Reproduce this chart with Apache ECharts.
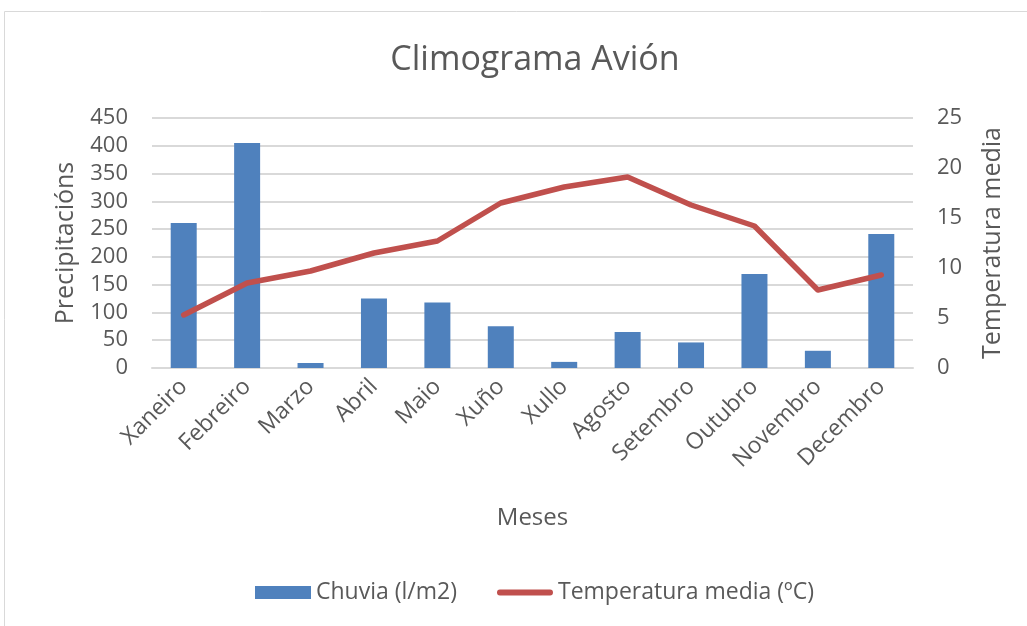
<!DOCTYPE html>
<html>
<head>
<meta charset="utf-8">
<script src="https://cdn.jsdelivr.net/npm/echarts@6/dist/echarts.min.js"></script>
<style>
  html, body { margin: 0; padding: 0; background: #fff; }
  #chart { width: 1027px; height: 626px; }
</style>
</head>
<body>
<div id="chart"></div>
<script>
var meses = ['Xaneiro', 'Febreiro', 'Marzo', 'Abril', 'Maio', 'Xuño', 'Xullo', 'Agosto', 'Setembro', 'Outubro', 'Novembro', 'Decembro']
var chuvia = [261, 405, 9, 125, 118, 75, 11, 65, 46, 169, 31, 241]
var temperatura = [5.3, 8.5, 9.7, 11.5, 12.7, 16.5, 18.1, 19.1, 16.3, 14.2, 7.8, 9.3]

var font = 'Open Sans, Noto Sans, sans-serif'
var grey = '#595959'
// rounded red bar for the line legend, padded to a 58x13 box
var lineIcon = 'path://M0,0 M58,13 M3,3.5 L55,3.5 A3,3 0 0 1 55,9.5 L3,9.5 A3,3 0 0 1 3,3.5 Z'

var chart = echarts.init(document.getElementById('chart'))
var option = {
  animation: false,
  textStyle: { fontFamily: font },
  graphic: [{
    type: 'rect',
    shape: { x: 4.5, y: 11.5, width: 1030, height: 620 },
    style: { fill: 'none', stroke: '#d9d9d9', lineWidth: 1 },
    silent: true
  }],
  title: {
    text: 'Climograma Avión',
    left: 530,
    textAlign: 'center',
    top: 38,
    textStyle: { fontSize: 34, fontWeight: 'normal', color: grey, fontFamily: font }
  },
  legend: {
    top: 576,
    left: 250,
    itemGap: 40,
    itemWidth: 56,
    itemHeight: 13,
    textStyle: { fontSize: 23, color: grey, fontFamily: font },
    data: [
      { name: 'Chuvia (l/m2)', icon: 'rect' },
      { name: 'Temperatura media (ºC)', icon: lineIcon, itemStyle: { color: '#c0504d' } }
    ]
  },
  grid: { left: 152, right: 114, top: 118, bottom: 258 },
  xAxis: {
    type: 'category',
    data: meses,
    name: 'Meses',
    nameLocation: 'middle',
    nameGap: 138,
    nameTextStyle: { fontSize: 24, color: grey },
    axisTick: { show: false },
    axisLine: { lineStyle: { color: '#d9d9d9', width: 2 } },
    axisLabel: { rotate: 45, fontSize: 23, color: grey, margin: 15, interval: 0 }
  },
  yAxis: [{
    type: 'value',
    min: 0,
    max: 450,
    interval: 50,
    name: 'Precipitacións',
    nameLocation: 'middle',
    nameGap: 74,
    nameTextStyle: { fontSize: 25, color: grey },
    axisLabel: { fontSize: 22, color: grey, margin: 24 },
    splitLine: { lineStyle: { color: '#d9d9d9', width: 2 } }
  }, {
    type: 'value',
    min: 0,
    max: 25,
    interval: 5,
    name: 'Temperatura media',
    nameLocation: 'middle',
    nameGap: 67,
    nameTextStyle: { fontSize: 25, color: grey },
    axisLabel: { fontSize: 22, color: grey, margin: 24 },
    splitLine: { show: false }
  }],
  series: [{
    name: 'Chuvia (l/m2)',
    type: 'bar',
    data: chuvia,
    barWidth: 26,
    itemStyle: { color: '#4f81bd' }
  }, {
    name: 'Temperatura media (ºC)',
    type: 'line',
    yAxisIndex: 1,
    data: temperatura,
    symbol: 'none',
    lineStyle: { color: '#c0504d', width: 5.5, cap: 'round', join: 'round' },
    itemStyle: { color: '#c0504d' }
  }]
}
chart.setOption(option)
</script>
</body>
</html>
